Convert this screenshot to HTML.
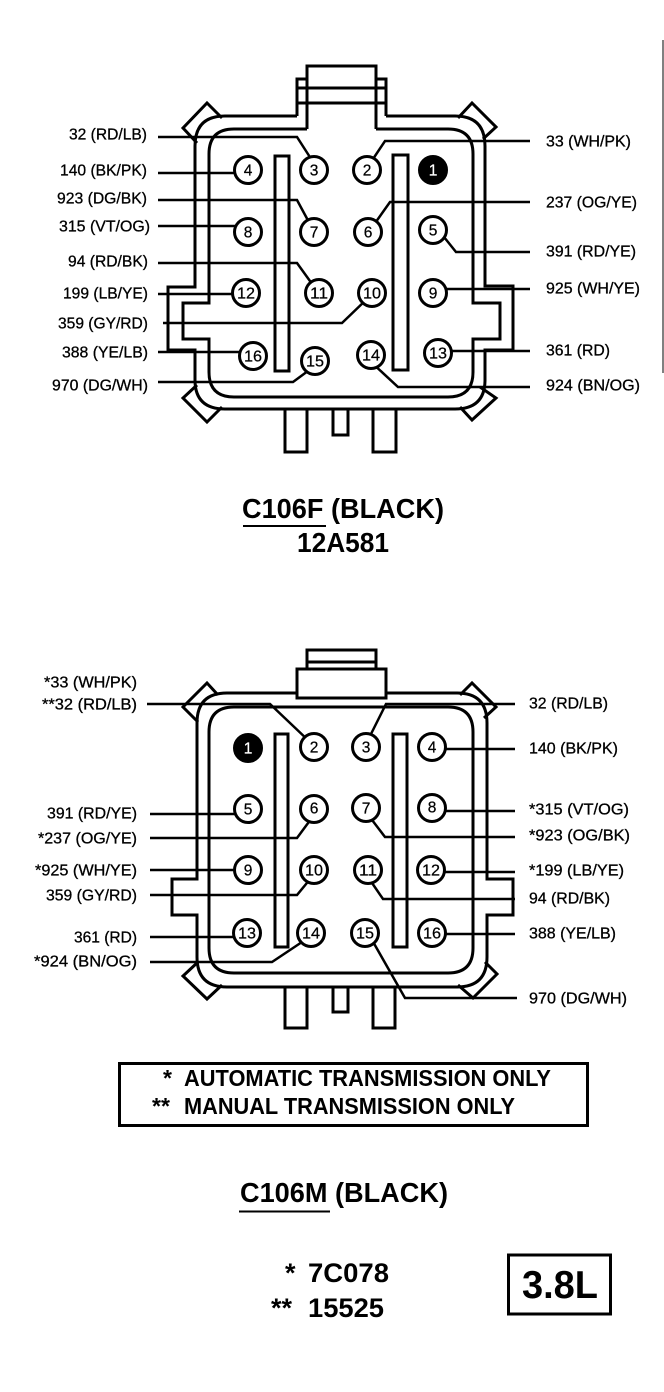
<!DOCTYPE html>
<html><head><meta charset="utf-8"><style>
html,body{margin:0;padding:0;background:#fff}
svg{display:block}
text{font-family:"Liberation Sans",sans-serif;fill:#000}
.l{font-size:15.5px;stroke:#000;stroke-width:.3}
.p{font-size:15.5px;text-anchor:middle;stroke:#000;stroke-width:.25}
.b{font-size:23px;font-weight:bold}
.h{font-size:28px;font-weight:bold}
.k{font-size:27px;font-weight:bold}
.s{fill:none;stroke:#000;stroke-width:3;stroke-linejoin:miter}
.w{fill:none;stroke:#000;stroke-width:2.5;stroke-linejoin:miter}
circle{fill:#fff;stroke:#000;stroke-width:3}
</style></head><body>
<svg width="664" height="1392" viewBox="0 0 664 1392" xmlns="http://www.w3.org/2000/svg">
<rect width="664" height="1392" fill="#fff"/>
<path d="M663 40V373" stroke="#000" stroke-width="1" fill="none"/>

<!-- TOP CONNECTOR -->
<g class="s">
<path class="s" d="M297 116H225Q195 116 195 146V287H168V350H195V380Q195 409 225 409H455Q485 409 485 380V350H513V286H485V146Q485 116 455 116H386"/>
<path class="s" d="M307 129H234Q209 129 209 154V303H183V339H209V372Q209 397 234 397H448Q473 397 473 372V339H500V303H473V154Q473 129 448 129H376"/>
<path class="s" d="M307 129V66H376V129M307 79H297V116M376 79H386V116M297 88H386M297 103H386"/>
<path class="s" d="M222 118L207 103L183 128L197 143M458 118L472 103L496 127L483 139M197 385L183 398L207 422L222 407M480 387L496 398L472 420L460 407"/>
<rect class="s" x="275" y="156" width="14" height="215"/>
<rect class="s" x="393" y="155" width="15" height="215"/>
<path class="s" d="M285 409V452H307V409M333 409V435H348V409M373 409V452H396V409"/>
</g>
<g class="w">
<path class="w" d="M158 137H297L315 165"/>
<path class="w" d="M369 165L385 141H530"/>
<path class="w" d="M158 173H240"/>
<path class="w" d="M158 200H297L311 226"/>
<path class="w" d="M373 226L390 202H530"/>
<path class="w" d="M158 226H240"/>
<path class="w" d="M440 232L456 252H530"/>
<path class="w" d="M158 263H297L315 288"/>
<path class="w" d="M158 294H240"/>
<path class="w" d="M440 289H530"/>
<path class="w" d="M163 323H342L368 298"/>
<path class="w" d="M158 352H245"/>
<path class="w" d="M445 351H530"/>
<path class="w" d="M158 382H293L312 368"/>
<path class="w" d="M371 362L398 387H530"/>
</g>
<circle cx="248" cy="170" r="13.5"/><text class="p" x="248" y="175.500">4</text>
<circle cx="314" cy="170" r="13.5"/><text class="p" x="314" y="175.500">3</text>
<circle cx="367" cy="170" r="13.5"/><text class="p" x="367" y="175.500">2</text>
<circle cx="433" cy="170" r="13.5" style="fill:#000"/><text class="p" x="433" y="175.500" style="fill:#fff;stroke:#fff">1</text>
<circle cx="248" cy="232" r="13.5"/><text class="p" x="248" y="237.500">8</text>
<circle cx="314" cy="232" r="13.5"/><text class="p" x="314" y="237.500">7</text>
<circle cx="368" cy="232" r="13.5"/><text class="p" x="368" y="237.500">6</text>
<circle cx="433" cy="230" r="13.5"/><text class="p" x="433" y="235.500">5</text>
<circle cx="246" cy="293" r="13.5"/><text class="p" x="246" y="298.500" textLength="18" lengthAdjust="spacingAndGlyphs">12</text>
<circle cx="319" cy="293" r="13.5"/><text class="p" x="319" y="298.500" textLength="18" lengthAdjust="spacingAndGlyphs">11</text>
<circle cx="372" cy="293" r="13.5"/><text class="p" x="372" y="298.500" textLength="18" lengthAdjust="spacingAndGlyphs">10</text>
<circle cx="433" cy="293" r="13.5"/><text class="p" x="433" y="298.500">9</text>
<circle cx="253" cy="356" r="13.5"/><text class="p" x="253" y="361.500" textLength="18" lengthAdjust="spacingAndGlyphs">16</text>
<circle cx="315" cy="361" r="13.5"/><text class="p" x="315" y="366.500" textLength="18" lengthAdjust="spacingAndGlyphs">15</text>
<circle cx="371" cy="355" r="13.5"/><text class="p" x="371" y="360.500" textLength="18" lengthAdjust="spacingAndGlyphs">14</text>
<circle cx="438" cy="353" r="13.5"/><text class="p" x="438" y="358.500" textLength="18" lengthAdjust="spacingAndGlyphs">13</text>

<text class="l" x="69" y="139.500" textLength="78" lengthAdjust="spacingAndGlyphs">32 (RD/LB)</text>
<text class="l" x="60" y="175.500" textLength="87" lengthAdjust="spacingAndGlyphs">140 (BK/PK)</text>
<text class="l" x="57" y="203.500" textLength="90" lengthAdjust="spacingAndGlyphs">923 (DG/BK)</text>
<text class="l" x="59" y="231.500" textLength="91" lengthAdjust="spacingAndGlyphs">315 (VT/OG)</text>
<text class="l" x="68" y="266.500" textLength="80" lengthAdjust="spacingAndGlyphs">94 (RD/BK)</text>
<text class="l" x="63" y="298.500" textLength="85" lengthAdjust="spacingAndGlyphs">199 (LB/YE)</text>
<text class="l" x="58" y="328.500" textLength="90" lengthAdjust="spacingAndGlyphs">359 (GY/RD)</text>
<text class="l" x="62" y="357.500" textLength="86" lengthAdjust="spacingAndGlyphs">388 (YE/LB)</text>
<text class="l" x="52" y="390.500" textLength="96" lengthAdjust="spacingAndGlyphs">970 (DG/WH)</text>
<text class="l" x="546" y="146.500" textLength="85" lengthAdjust="spacingAndGlyphs">33 (WH/PK)</text>
<text class="l" x="546" y="207.500" textLength="91" lengthAdjust="spacingAndGlyphs">237 (OG/YE)</text>
<text class="l" x="546" y="256.500" textLength="90" lengthAdjust="spacingAndGlyphs">391 (RD/YE)</text>
<text class="l" x="546" y="293.500" textLength="94" lengthAdjust="spacingAndGlyphs">925 (WH/YE)</text>
<text class="l" x="546" y="355.500" textLength="64" lengthAdjust="spacingAndGlyphs">361 (RD)</text>
<text class="l" x="546" y="390.500" textLength="94" lengthAdjust="spacingAndGlyphs">924 (BN/OG)</text>

<text class="h" x="242" y="518" textLength="202" lengthAdjust="spacingAndGlyphs">C106F (BLACK)</text>
<path d="M243 526H326" stroke="#000" stroke-width="2"/>
<text class="h" x="297" y="552" textLength="92" lengthAdjust="spacingAndGlyphs">12A581</text>

<!-- BOTTOM CONNECTOR -->
<g class="s">
<path class="s" d="M297 693H227Q197 693 197 723V879H172V915H197V957Q197 987 227 987H457Q487 987 487 957V915H513V879H487V723Q487 693 457 693H386"/>
<path class="s" d="M234 707H448Q473 707 473 732V948Q473 973 448 973H234Q209 973 209 948V732Q209 707 234 707Z"/>
<rect class="s" x="297" y="669" width="89" height="29"/>
<path class="s" d="M307 669V650H376V669M307 662H376"/>
<path class="s" d="M218 695L207 683L183 707L198 722M460 695L472 683L496 707L484 718M198 962L183 976L207 999L222 985M485 962L497 974L473 998L458 985"/>
<rect class="s" x="275" y="734" width="13" height="213"/>
<rect class="s" x="393" y="734" width="14" height="213"/>
<path class="s" d="M285 987V1028H307V987M333 987V1012H348V987M373 987V1028H395V987"/>
</g>
<g class="w">
<path class="w" d="M147 704H270L310 742"/>
<path class="w" d="M368 740L386 704H515"/>
<path class="w" d="M440 749H515"/>
<path class="w" d="M150 814H240"/>
<path class="w" d="M150 838H297L314 815"/>
<path class="w" d="M369 816L385 837H515"/>
<path class="w" d="M440 811H515"/>
<path class="w" d="M150 870H240"/>
<path class="w" d="M150 895H297L311 878"/>
<path class="w" d="M370 880L383 899H515"/>
<path class="w" d="M440 872H515"/>
<path class="w" d="M150 937H240"/>
<path class="w" d="M150 962H272L305 940"/>
<path class="w" d="M372 940L405 998H517"/>
<path class="w" d="M440 934H515"/>
</g>
<circle cx="248" cy="748" r="13.5" style="fill:#000"/><text class="p" x="248" y="753.500" style="fill:#fff;stroke:#fff">1</text>
<circle cx="314" cy="747" r="13.5"/><text class="p" x="314" y="752.500">2</text>
<circle cx="366" cy="747" r="13.5"/><text class="p" x="366" y="752.500">3</text>
<circle cx="432" cy="747" r="13.5"/><text class="p" x="432" y="752.500">4</text>
<circle cx="248" cy="809" r="13.5"/><text class="p" x="248" y="814.500">5</text>
<circle cx="314" cy="809" r="13.5"/><text class="p" x="314" y="813.500">6</text>
<circle cx="366" cy="808" r="13.5"/><text class="p" x="366" y="813.500">7</text>
<circle cx="432" cy="808" r="13.5"/><text class="p" x="432" y="812.500">8</text>
<circle cx="248" cy="870" r="13.5"/><text class="p" x="248" y="875.500">9</text>
<circle cx="314" cy="870" r="13.5"/><text class="p" x="314" y="875.500" textLength="18" lengthAdjust="spacingAndGlyphs">10</text>
<circle cx="368" cy="870" r="13.5"/><text class="p" x="368" y="875.500" textLength="18" lengthAdjust="spacingAndGlyphs">11</text>
<circle cx="431" cy="870" r="13.5"/><text class="p" x="431" y="875.500" textLength="18" lengthAdjust="spacingAndGlyphs">12</text>
<circle cx="247" cy="933" r="13.5"/><text class="p" x="247" y="938.500" textLength="18" lengthAdjust="spacingAndGlyphs">13</text>
<circle cx="311" cy="933" r="13.5"/><text class="p" x="311" y="938.500" textLength="18" lengthAdjust="spacingAndGlyphs">14</text>
<circle cx="365" cy="933" r="13.5"/><text class="p" x="365" y="938.500" textLength="18" lengthAdjust="spacingAndGlyphs">15</text>
<circle cx="432" cy="933" r="13.5"/><text class="p" x="432" y="938.500" textLength="18" lengthAdjust="spacingAndGlyphs">16</text>

<text class="l" x="44" y="687.500" textLength="93" lengthAdjust="spacingAndGlyphs">*33 (WH/PK)</text>
<text class="l" x="42" y="709.500" textLength="95" lengthAdjust="spacingAndGlyphs">**32 (RD/LB)</text>
<text class="l" x="47" y="818.500" textLength="90" lengthAdjust="spacingAndGlyphs">391 (RD/YE)</text>
<text class="l" x="38" y="843.500" textLength="99" lengthAdjust="spacingAndGlyphs">*237 (OG/YE)</text>
<text class="l" x="35" y="875.500" textLength="102" lengthAdjust="spacingAndGlyphs">*925 (WH/YE)</text>
<text class="l" x="46" y="900.500" textLength="91" lengthAdjust="spacingAndGlyphs">359 (GY/RD)</text>
<text class="l" x="74" y="942.500" textLength="63" lengthAdjust="spacingAndGlyphs">361 (RD)</text>
<text class="l" x="34" y="966.500" textLength="103" lengthAdjust="spacingAndGlyphs">*924 (BN/OG)</text>
<text class="l" x="529" y="708.500" textLength="79" lengthAdjust="spacingAndGlyphs">32 (RD/LB)</text>
<text class="l" x="529" y="753.500" textLength="89" lengthAdjust="spacingAndGlyphs">140 (BK/PK)</text>
<text class="l" x="529" y="814.500" textLength="100" lengthAdjust="spacingAndGlyphs">*315 (VT/OG)</text>
<text class="l" x="529" y="840.500" textLength="101" lengthAdjust="spacingAndGlyphs">*923 (OG/BK)</text>
<text class="l" x="529" y="875.500" textLength="95" lengthAdjust="spacingAndGlyphs">*199 (LB/YE)</text>
<text class="l" x="529" y="903.500" textLength="81" lengthAdjust="spacingAndGlyphs">94 (RD/BK)</text>
<text class="l" x="529" y="938.500" textLength="87" lengthAdjust="spacingAndGlyphs">388 (YE/LB)</text>
<text class="l" x="529" y="1003.500" textLength="98" lengthAdjust="spacingAndGlyphs">970 (DG/WH)</text>

<rect x="119.500" y="1063.500" width="468" height="62" fill="none" stroke="#000" stroke-width="3"/>
<text class="b" x="163" y="1086">*</text>
<text class="b" x="184" y="1086" textLength="367" lengthAdjust="spacingAndGlyphs">AUTOMATIC TRANSMISSION ONLY</text>
<text class="b" x="152" y="1114">**</text>
<text class="b" x="184" y="1114" textLength="331" lengthAdjust="spacingAndGlyphs">MANUAL TRANSMISSION ONLY</text>

<text class="h" x="240" y="1202" textLength="208" lengthAdjust="spacingAndGlyphs">C106M (BLACK)</text>
<path d="M239 1211.500H330" stroke="#000" stroke-width="2"/>

<text class="k" x="285" y="1282">*</text>
<text class="k" x="308" y="1282" textLength="81" lengthAdjust="spacingAndGlyphs">7C078</text>
<text class="k" x="271" y="1317">**</text>
<text class="k" x="308" y="1317" textLength="76" lengthAdjust="spacingAndGlyphs">15525</text>

<rect x="508.500" y="1255" width="102" height="59" fill="none" stroke="#000" stroke-width="3"/>
<text x="522" y="1298" font-size="39" font-weight="bold" textLength="76" lengthAdjust="spacingAndGlyphs">3.8L</text>
</svg>
</body></html>
